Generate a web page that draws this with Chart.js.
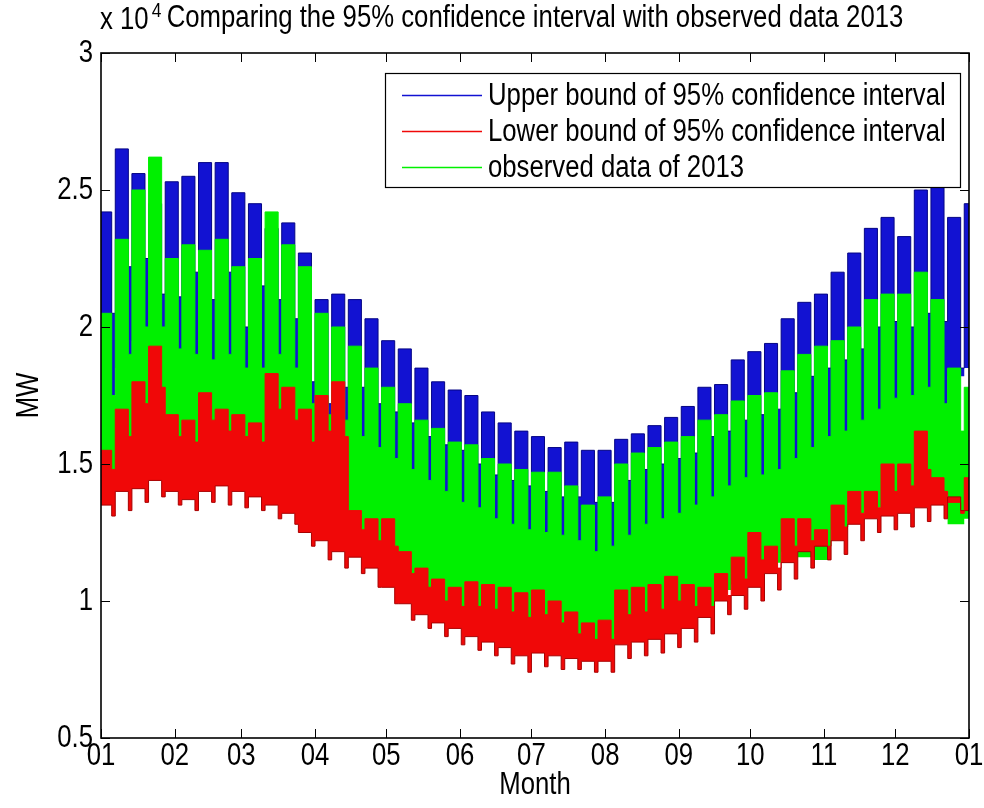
<!DOCTYPE html>
<html>
<head>
<meta charset="utf-8">
<script src="https://cdn.jsdelivr.net/npm/chart.js@4.4.1/dist/chart.umd.min.js"></script>
<style>
html, body { margin: 0; padding: 0; background: #fff; }
#wrap { position: relative; width: 984px; height: 808px; }
</style>
</head>
<body>
<div id="wrap"><canvas id="chart"></canvas></div>
<script>
// Day-of-year axis for 2013 (Jan 1 is a Tuesday), labelled by month
const monthStarts = [0, 31, 59, 90, 120, 151, 181, 212, 243, 273, 304, 334, 365];
const monthLabels = ['01', '02', '03', '04', '05', '06', '07', '08', '09', '10', '11', '12', '01'];
const yTicks = [5000, 10000, 15000, 20000, 25000, 30000];
const seriesNames = [
  'Upper bound of 95% confidence interval',
  'Lower bound of 95% confidence interval',
  'observed data of 2013'
];

// Hourly load, summarised per week (MW): working-day peak, weekend dip, lowest level
const upperWeekday = [
  24200, 26500, 25600, 24500, 25300, 25500, 26000, 26000, 24900, 24500,
  23600, 23800, 22700, 21000, 21200, 21000, 20300, 19500, 19200, 18500,
  18000, 17700, 17500, 16900, 16500, 16200, 16000, 15600, 15800, 15500,
  15500, 15900, 16100, 16400, 16700, 17100, 17800, 17900, 18800, 19100,
  19400, 20300, 20900, 21200, 22000, 22700, 23600, 24000, 23300, 25000,
  25200, 24000, 24500
];
const upperWeekend = [
  20500, 22200, 22500, 21200, 21100, 22000, 21000, 22000, 20000, 21500,
  21000, 20300, 18000, 17200, 17800, 17800, 17200, 16900, 16500, 16000,
  15700, 15500, 15000, 14600, 14400, 14200, 14000, 13800, 13800, 13600,
  13600, 14400, 14800, 15000, 15200, 15400, 16000, 16200, 16600, 16800,
  17000, 17600, 18200, 18500, 18800, 19200, 20000, 20200, 20000, 20500,
  20200, 18500
];
const upperFloor = [
  17000, 18500, 19500, 19500, 18700, 18500, 18300, 18500, 18000, 18000,
  18500, 18000, 16700, 16300, 16100, 15500, 15100, 14700, 14300, 13900,
  13500, 13100, 12900, 12500, 12300, 12100, 12000, 11900, 11700, 11300,
  11500, 11900, 12300, 12500, 12700, 13000, 13300, 13700, 14000, 14100,
  14300, 14700, 15100, 15500, 15700, 16100, 16500, 16900, 17000, 17300,
  16700, 18200, 18500
];

const lowerWeekday = [
  15500, 17000, 18000, 19300, 16800, 16600, 17600, 17000, 16800, 16500,
  18300, 17800, 17000, 17500, 18000, 13300, 13000, 13000, 11800, 11200,
  10800, 10500, 10700, 10600, 10500, 10300, 10400, 10000, 9600, 9200,
  9300, 10400, 10500, 10600, 10900, 10600, 10500, 11000, 11600, 12500,
  12000, 13000, 13000, 12600, 13500, 14000, 14000, 15000, 15000, 16200,
  14500, 13600, 14500
];
const lowerWeekend = [
  14800, 16000, 17200, 17800, 16000, 15800, 16600, 16200, 16000, 15800,
  17000, 16600, 15800, 16200, 16000, 12600, 12200, 12000, 11000, 10500,
  10000, 9800, 9800, 9700, 9600, 9400, 9500, 9200, 8800, 8600,
  8600, 9500, 9600, 9700, 10000, 9800, 9800, 10200, 10800, 11500,
  11200, 12000, 12200, 12000, 12700, 13200, 13400, 14000, 14200, 14800,
  14000, 13200
];
const lowerFloorWeekday = [
  13500, 14000, 14100, 14400, 14000, 13700, 14000, 14200, 14000, 13800,
  13500, 13200, 12500, 12200, 11800, 11600, 11200, 10500, 9900, 9500,
  9200, 9000, 8700, 8500, 8300, 8000, 8100, 8000, 7900, 7800,
  7800, 8400, 8500, 8600, 8800, 9000, 9400, 10000, 10200, 10500,
  11000, 11400, 11800, 12000, 12200, 12800, 13000, 13100, 13200, 13400,
  13500, 13800, 13300
];
const lowerFloorWeekend = [
  13100, 13300, 13600, 13800, 13500, 13300, 13600, 13500, 13400, 13300,
  13000, 12800, 12000, 11500, 11200, 11000, 10500, 9900, 9300, 9000,
  8700, 8400, 8200, 8000, 7700, 7400, 7600, 7500, 7500, 7400,
  7400, 7900, 8000, 8100, 8300, 8500, 8800, 9500, 9700, 10000,
  10400, 10800, 11200, 11500, 11700, 12200, 12500, 12600, 12700, 12900,
  13000, 13300
];

const observedWeekday = [
  20500, 23200, 25000, 26200, 22500, 23000, 22800, 23200, 22200, 22500,
  24200, 23000, 22200, 20500, 20000, 19300, 18500, 17800, 17200, 16600,
  16300, 15800, 15700, 15200, 15000, 14800, 14700, 14700, 14200, 13500,
  13800, 15000, 15400, 15600, 15800, 16000, 16600, 16800, 17300, 17500,
  17600, 18400, 19000, 19300, 19500, 20000, 21000, 21200, 21200, 22000,
  21000, 18500, 17800
];
const observedWeekend = [
  17500, 19000, 20000, 20000, 19200, 19000, 18800, 19000, 18500, 18500,
  19000, 18500, 17200, 16800, 16600, 16000, 15600, 15200, 14800, 14400,
  14000, 13600, 13400, 13000, 12800, 12600, 12500, 12400, 12200, 11800,
  12000, 12400, 12800, 13000, 13200, 13500, 13800, 14200, 14500, 14600,
  14800, 15200, 15600, 16000, 16200, 16600, 17000, 17400, 17500, 17800,
  17200, 16200
];
const observedFloor = [
  14000, 14400, 14500, 14800, 14400, 14100, 14400, 14600, 14400, 14200,
  13900, 13600, 12900, 12600, 12200, 12000, 11600, 10900, 10300, 9900,
  9600, 9400, 9100, 8900, 8700, 8400, 8500, 8400, 8300, 8200,
  8200, 8800, 8900, 9000, 9200, 9400, 9800, 10400, 10600, 10900,
  11400, 11800, 11600, 11500, 12600, 13200, 13400, 13500, 13600, 13800,
  13900, 12800, 13000
];

// Turn weekly levels into a step outline: Mon-Fri block, then the weekend block
function weekSteps(weekday, weekend) {
  const pts = [];
  for (let k = 0; k < weekday.length; k++) {
    pts.push({ x: k === 0 ? 0 : 7 * k - 1, y: weekday[k] });
    if (k < weekend.length) pts.push({ x: 7 * k + 4.5, y: weekend[k] });
  }
  pts.push({ x: 365, y: weekday[weekday.length - 1] });
  return pts;
}

const FONT = "'Liberation Sans', Arial, sans-serif";
const FS = 31;
const NARROW = 0.83;   // horizontal squeeze for the narrow axis lettering
const BLUE = '#1212d2';
const RED = '#f00808';
const GREEN = '#00f000';
const TICK = 9;

Chart.defaults.font.family = FONT;
Chart.defaults.font.size = FS;
Chart.defaults.color = '#000';

const canvas = document.getElementById('chart');
const ctx2d = canvas.getContext('2d');
// Narrow lettering: squeeze every text run horizontally about its anchor point
const baseFill = ctx2d.fillText.bind(ctx2d);
const baseMeasure = ctx2d.measureText.bind(ctx2d);
ctx2d.fillText = function (text, x, y, maxWidth) {
  this.save();
  this.translate(x, y);
  this.scale(NARROW, 1);
  if (maxWidth === undefined) baseFill(text, 0, 0);
  else baseFill(text, 0, 0, maxWidth / NARROW);
  this.restore();
};
ctx2d.measureText = function (text) {
  const m = baseMeasure(text);
  return {
    width: m.width * NARROW,
    actualBoundingBoxAscent: m.actualBoundingBoxAscent,
    actualBoundingBoxDescent: m.actualBoundingBoxDescent,
    actualBoundingBoxLeft: m.actualBoundingBoxLeft * NARROW,
    actualBoundingBoxRight: m.actualBoundingBoxRight * NARROW
  };
};

// Axes box with inward ticks, boxed legend and the x10^4 exponent
const framePlugin = {
  id: 'frame',
  afterDatasetsDraw(chart) {
    const { ctx, chartArea: a, scales: { x, y } } = chart;
    ctx.save();
    ctx.strokeStyle = '#000';
    ctx.lineWidth = 1;
    ctx.beginPath();
    x.ticks.forEach(t => {
      const px = Math.round(x.getPixelForValue(t.value)) + 0.5;
      ctx.moveTo(px, a.bottom); ctx.lineTo(px, a.bottom - TICK);
      ctx.moveTo(px, a.top); ctx.lineTo(px, a.top + TICK);
    });
    y.ticks.forEach(t => {
      const py = Math.round(y.getPixelForValue(t.value)) + 0.5;
      ctx.moveTo(a.left, py); ctx.lineTo(a.left + TICK, py);
      ctx.moveTo(a.right, py); ctx.lineTo(a.right - TICK, py);
    });
    ctx.stroke();
    ctx.lineWidth = 1.6;
    ctx.strokeRect(a.left, a.top, a.right - a.left, a.bottom - a.top);

    // legend
    ctx.font = FS + 'px ' + FONT;
    const textW = Math.max(...seriesNames.map(s => ctx.measureText(s).width));
    const boxRight = a.right - 9;
    const boxW = 17 + 80 + 6 + textW + 14;
    const boxLeft = Math.round(boxRight - boxW);
    const boxTop = a.top + 20;
    const boxH = 114;
    ctx.fillStyle = '#fff';
    ctx.fillRect(boxLeft, boxTop, boxRight - boxLeft, boxH);
    ctx.lineWidth = 1.2;
    ctx.strokeRect(boxLeft + 0.5, boxTop + 0.5, boxRight - boxLeft, boxH);
    const colors = [BLUE, RED, GREEN];
    seriesNames.forEach((name, i) => {
      const cy = boxTop + 22 + i * 36;
      ctx.strokeStyle = colors[i];
      ctx.lineWidth = 1.5;
      ctx.beginPath();
      ctx.moveTo(boxLeft + 17, cy + 0.5);
      ctx.lineTo(boxLeft + 97, cy + 0.5);
      ctx.stroke();
      ctx.fillStyle = '#000';
      ctx.textAlign = 'left';
      ctx.textBaseline = 'middle';
      ctx.fillText(name, boxLeft + 103, cy + 1);
    });

    // exponent of the y values
    ctx.fillStyle = '#000';
    ctx.textAlign = 'left';
    ctx.textBaseline = 'alphabetic';
    ctx.font = FS + 'px ' + FONT;
    ctx.fillText('x 10', a.left - 1, 29);
    const w = ctx.measureText('x 10').width;
    ctx.font = '21px ' + FONT;
    ctx.fillText('4', a.left - 1 + w + 3, 17);
    ctx.restore();
  }
};

const common = { pointRadius: 0, pointHoverRadius: 0, stepped: true, tension: 0 };

new Chart(canvas, {
  type: 'line',
  data: {
    datasets: [
      { ...common, label: '', data: weekSteps(upperFloor, upperFloor), borderWidth: 0, fill: false, order: 3 },
      { ...common, label: seriesNames[0], data: weekSteps(upperWeekday, upperWeekend),
        borderColor: '#050585', borderWidth: 1, backgroundColor: BLUE, fill: '-1', order: 3 },
      { ...common, label: '', data: weekSteps(lowerFloorWeekday, lowerFloorWeekend),
        borderColor: '#a80000', borderWidth: 1, fill: false, order: 1 },
      { ...common, label: seriesNames[1], data: weekSteps(lowerWeekday, lowerWeekend),
        borderColor: RED, borderWidth: 1, backgroundColor: RED, fill: '-1', order: 1 },
      { ...common, label: '', data: weekSteps(observedFloor, observedFloor), borderWidth: 0, fill: false, order: 2 },
      { ...common, label: seriesNames[2], data: weekSteps(observedWeekday, observedWeekend),
        borderColor: GREEN, borderWidth: 1, backgroundColor: GREEN, fill: '-1', order: 2 }
    ]
  },
  options: {
    responsive: true,
    maintainAspectRatio: false,
    animation: false,
    events: [],
    layout: { padding: { left: 0, right: 15, top: 0, bottom: 0 } },
    plugins: {
      legend: { display: false },
      tooltip: { enabled: false },
      title: {
        display: true,
        fullSize: false,
        text: 'Comparing the 95% confidence interval with observed data 2013',
        font: { size: FS, weight: 'normal' },
        color: '#000',
        padding: { top: 0, bottom: 15.8 }
      }
    },
    scales: {
      x: {
        type: 'linear', min: 0, max: 365,
        afterBuildTicks: s => { s.ticks = monthStarts.map(v => ({ value: v })); },
        afterFit: s => { s.height = 70; },
        ticks: { autoSkip: false, maxRotation: 0, padding: 0, callback: (v, i) => monthLabels[i] },
        grid: { display: false, drawTicks: false },
        border: { display: false },
        title: { display: true, text: 'Month', padding: { top: 0, bottom: 4.4 } }
      },
      y: {
        type: 'linear', min: 5000, max: 30000,
        afterBuildTicks: s => { s.ticks = yTicks.map(v => ({ value: v })); },
        afterFit: s => { s.width = 101; },
        ticks: { padding: 8, callback: v => String(v / 10000) },
        grid: { display: false, drawTicks: false },
        border: { display: false },
        title: { display: true, text: 'MW', padding: { top: 11, bottom: 0 } }
      }
    }
  },
  plugins: [framePlugin]
});
</script>
</body>
</html>
